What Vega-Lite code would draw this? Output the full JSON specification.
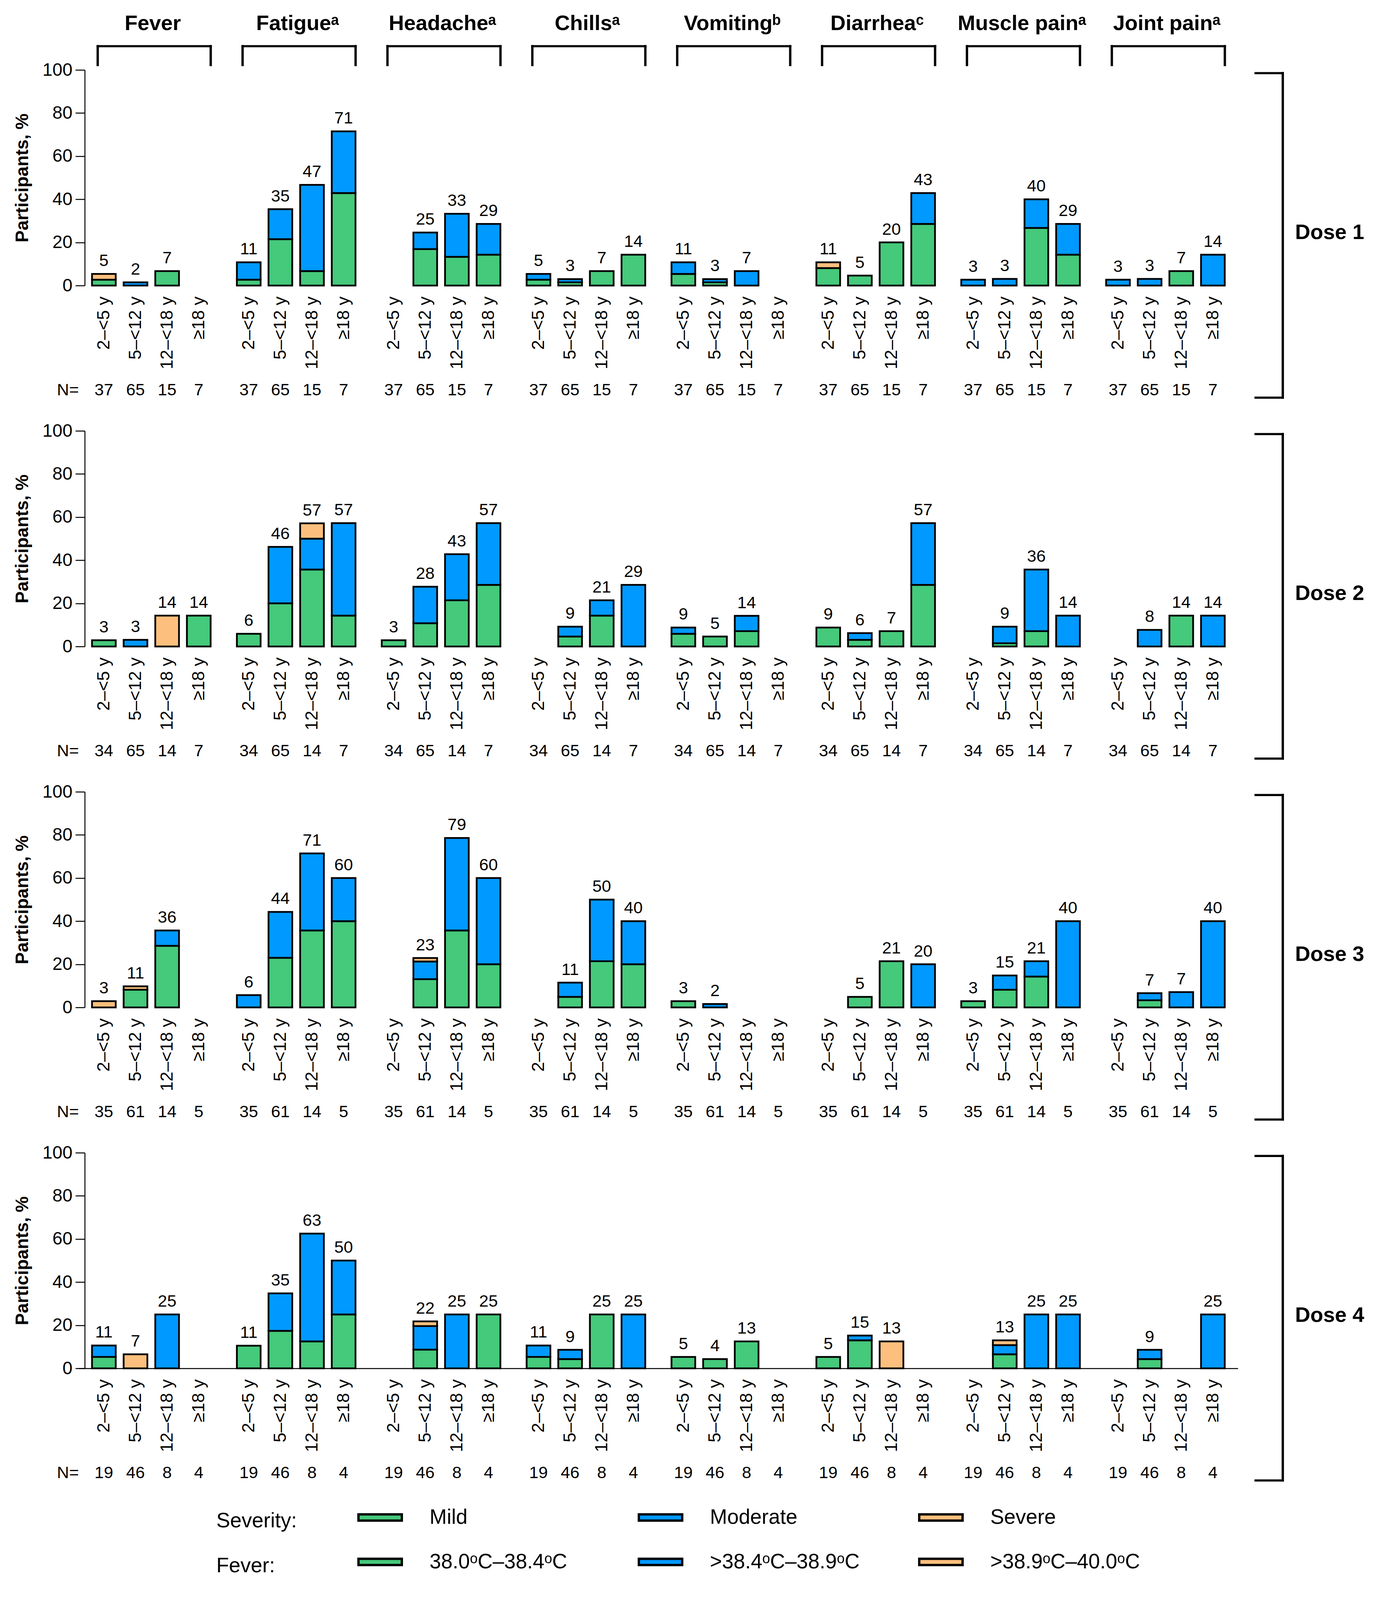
{
  "$schema": "https://vega.github.io/schema/vega-lite/v6.json",
  "padding": {"left": 34, "top": 34, "right": 20, "bottom": 20},
  "background": "white",
  "config": {"font": "Liberation Sans", "view": {"stroke": null}},
  "data": {
    "values": [
      {"d":"Dose 1","s":"Fever","a":"2–<5 y","n":37,"t":5,"f1":2.7,"f3":2.7},
      {"d":"Dose 1","s":"Fever","a":"5–<12 y","n":65,"t":2,"f2":1.5},
      {"d":"Dose 1","s":"Fever","a":"12–<18 y","n":15,"t":7,"f1":6.7},
      {"d":"Dose 1","s":"Fever","a":"≥18 y","n":7,"t":0},
      {"d":"Dose 1","s":"Fatigueᵃ","a":"2–<5 y","n":37,"t":11,"mi":2.7,"mo":8.1},
      {"d":"Dose 1","s":"Fatigueᵃ","a":"5–<12 y","n":65,"t":35,"mi":21.5,"mo":13.9},
      {"d":"Dose 1","s":"Fatigueᵃ","a":"12–<18 y","n":15,"t":47,"mi":6.7,"mo":40},
      {"d":"Dose 1","s":"Fatigueᵃ","a":"≥18 y","n":7,"t":71,"mi":42.9,"mo":28.6},
      {"d":"Dose 1","s":"Headacheᵃ","a":"2–<5 y","n":37,"t":0},
      {"d":"Dose 1","s":"Headacheᵃ","a":"5–<12 y","n":65,"t":25,"mi":16.9,"mo":7.7},
      {"d":"Dose 1","s":"Headacheᵃ","a":"12–<18 y","n":15,"t":33,"mi":13.3,"mo":20},
      {"d":"Dose 1","s":"Headacheᵃ","a":"≥18 y","n":7,"t":29,"mi":14.3,"mo":14.3},
      {"d":"Dose 1","s":"Chillsᵃ","a":"2–<5 y","n":37,"t":5,"mi":2.7,"mo":2.7},
      {"d":"Dose 1","s":"Chillsᵃ","a":"5–<12 y","n":65,"t":3,"mi":1.5,"mo":1.5},
      {"d":"Dose 1","s":"Chillsᵃ","a":"12–<18 y","n":15,"t":7,"mi":6.7},
      {"d":"Dose 1","s":"Chillsᵃ","a":"≥18 y","n":7,"t":14,"mi":14.3},
      {"d":"Dose 1","s":"Vomitingᵇ","a":"2–<5 y","n":37,"t":11,"mi":5.4,"mo":5.4},
      {"d":"Dose 1","s":"Vomitingᵇ","a":"5–<12 y","n":65,"t":3,"mi":1.5,"mo":1.5},
      {"d":"Dose 1","s":"Vomitingᵇ","a":"12–<18 y","n":15,"t":7,"mo":6.7},
      {"d":"Dose 1","s":"Vomitingᵇ","a":"≥18 y","n":7,"t":0},
      {"d":"Dose 1","s":"Diarrheaᶜ","a":"2–<5 y","n":37,"t":11,"mi":8.1,"se":2.7},
      {"d":"Dose 1","s":"Diarrheaᶜ","a":"5–<12 y","n":65,"t":5,"mi":4.6},
      {"d":"Dose 1","s":"Diarrheaᶜ","a":"12–<18 y","n":15,"t":20,"mi":20},
      {"d":"Dose 1","s":"Diarrheaᶜ","a":"≥18 y","n":7,"t":43,"mi":28.6,"mo":14.3},
      {"d":"Dose 1","s":"Muscle painᵃ","a":"2–<5 y","n":37,"t":3,"mo":2.7},
      {"d":"Dose 1","s":"Muscle painᵃ","a":"5–<12 y","n":65,"t":3,"mo":3.1},
      {"d":"Dose 1","s":"Muscle painᵃ","a":"12–<18 y","n":15,"t":40,"mi":26.7,"mo":13.3},
      {"d":"Dose 1","s":"Muscle painᵃ","a":"≥18 y","n":7,"t":29,"mi":14.3,"mo":14.3},
      {"d":"Dose 1","s":"Joint painᵃ","a":"2–<5 y","n":37,"t":3,"mo":2.7},
      {"d":"Dose 1","s":"Joint painᵃ","a":"5–<12 y","n":65,"t":3,"mo":3.1},
      {"d":"Dose 1","s":"Joint painᵃ","a":"12–<18 y","n":15,"t":7,"mi":6.7},
      {"d":"Dose 1","s":"Joint painᵃ","a":"≥18 y","n":7,"t":14,"mo":14.3},

      {"d":"Dose 2","s":"Fever","a":"2–<5 y","n":34,"t":3,"f1":2.9},
      {"d":"Dose 2","s":"Fever","a":"5–<12 y","n":65,"t":3,"f2":3.1},
      {"d":"Dose 2","s":"Fever","a":"12–<18 y","n":14,"t":14,"f3":14.3},
      {"d":"Dose 2","s":"Fever","a":"≥18 y","n":7,"t":14,"f1":14.3},
      {"d":"Dose 2","s":"Fatigueᵃ","a":"2–<5 y","n":34,"t":6,"mi":5.9},
      {"d":"Dose 2","s":"Fatigueᵃ","a":"5–<12 y","n":65,"t":46,"mi":20,"mo":26.2},
      {"d":"Dose 2","s":"Fatigueᵃ","a":"12–<18 y","n":14,"t":57,"mi":35.7,"mo":14.3,"se":7.1},
      {"d":"Dose 2","s":"Fatigueᵃ","a":"≥18 y","n":7,"t":57,"mi":14.3,"mo":42.9},
      {"d":"Dose 2","s":"Headacheᵃ","a":"2–<5 y","n":34,"t":3,"mi":2.9},
      {"d":"Dose 2","s":"Headacheᵃ","a":"5–<12 y","n":65,"t":28,"mi":10.8,"mo":16.9},
      {"d":"Dose 2","s":"Headacheᵃ","a":"12–<18 y","n":14,"t":43,"mi":21.4,"mo":21.4},
      {"d":"Dose 2","s":"Headacheᵃ","a":"≥18 y","n":7,"t":57,"mi":28.6,"mo":28.6},
      {"d":"Dose 2","s":"Chillsᵃ","a":"2–<5 y","n":34,"t":0},
      {"d":"Dose 2","s":"Chillsᵃ","a":"5–<12 y","n":65,"t":9,"mi":4.6,"mo":4.6},
      {"d":"Dose 2","s":"Chillsᵃ","a":"12–<18 y","n":14,"t":21,"mi":14.3,"mo":7.1},
      {"d":"Dose 2","s":"Chillsᵃ","a":"≥18 y","n":7,"t":29,"mo":28.6},
      {"d":"Dose 2","s":"Vomitingᵇ","a":"2–<5 y","n":34,"t":9,"mi":5.9,"mo":2.9},
      {"d":"Dose 2","s":"Vomitingᵇ","a":"5–<12 y","n":65,"t":5,"mi":4.6},
      {"d":"Dose 2","s":"Vomitingᵇ","a":"12–<18 y","n":14,"t":14,"mi":7.1,"mo":7.1},
      {"d":"Dose 2","s":"Vomitingᵇ","a":"≥18 y","n":7,"t":0},
      {"d":"Dose 2","s":"Diarrheaᶜ","a":"2–<5 y","n":34,"t":9,"mi":8.8},
      {"d":"Dose 2","s":"Diarrheaᶜ","a":"5–<12 y","n":65,"t":6,"mi":3.1,"mo":3.1},
      {"d":"Dose 2","s":"Diarrheaᶜ","a":"12–<18 y","n":14,"t":7,"mi":7.1},
      {"d":"Dose 2","s":"Diarrheaᶜ","a":"≥18 y","n":7,"t":57,"mi":28.6,"mo":28.6},
      {"d":"Dose 2","s":"Muscle painᵃ","a":"2–<5 y","n":34,"t":0},
      {"d":"Dose 2","s":"Muscle painᵃ","a":"5–<12 y","n":65,"t":9,"mi":1.5,"mo":7.7},
      {"d":"Dose 2","s":"Muscle painᵃ","a":"12–<18 y","n":14,"t":36,"mi":7.1,"mo":28.6},
      {"d":"Dose 2","s":"Muscle painᵃ","a":"≥18 y","n":7,"t":14,"mo":14.3},
      {"d":"Dose 2","s":"Joint painᵃ","a":"2–<5 y","n":34,"t":0},
      {"d":"Dose 2","s":"Joint painᵃ","a":"5–<12 y","n":65,"t":8,"mo":7.7},
      {"d":"Dose 2","s":"Joint painᵃ","a":"12–<18 y","n":14,"t":14,"mi":14.3},
      {"d":"Dose 2","s":"Joint painᵃ","a":"≥18 y","n":7,"t":14,"mo":14.3},

      {"d":"Dose 3","s":"Fever","a":"2–<5 y","n":35,"t":3,"f3":2.9},
      {"d":"Dose 3","s":"Fever","a":"5–<12 y","n":61,"t":11,"f1":8.2,"f3":1.6},
      {"d":"Dose 3","s":"Fever","a":"12–<18 y","n":14,"t":36,"f1":28.6,"f2":7.1},
      {"d":"Dose 3","s":"Fever","a":"≥18 y","n":5,"t":0},
      {"d":"Dose 3","s":"Fatigueᵃ","a":"2–<5 y","n":35,"t":6,"mo":5.7},
      {"d":"Dose 3","s":"Fatigueᵃ","a":"5–<12 y","n":61,"t":44,"mi":23,"mo":21.3},
      {"d":"Dose 3","s":"Fatigueᵃ","a":"12–<18 y","n":14,"t":71,"mi":35.7,"mo":35.7},
      {"d":"Dose 3","s":"Fatigueᵃ","a":"≥18 y","n":5,"t":60,"mi":40,"mo":20},
      {"d":"Dose 3","s":"Headacheᵃ","a":"2–<5 y","n":35,"t":0},
      {"d":"Dose 3","s":"Headacheᵃ","a":"5–<12 y","n":61,"t":23,"mi":13.1,"mo":8.2,"se":1.6},
      {"d":"Dose 3","s":"Headacheᵃ","a":"12–<18 y","n":14,"t":79,"mi":35.7,"mo":42.9},
      {"d":"Dose 3","s":"Headacheᵃ","a":"≥18 y","n":5,"t":60,"mi":20,"mo":40},
      {"d":"Dose 3","s":"Chillsᵃ","a":"2–<5 y","n":35,"t":0},
      {"d":"Dose 3","s":"Chillsᵃ","a":"5–<12 y","n":61,"t":11,"mi":4.9,"mo":6.6},
      {"d":"Dose 3","s":"Chillsᵃ","a":"12–<18 y","n":14,"t":50,"mi":21.4,"mo":28.6},
      {"d":"Dose 3","s":"Chillsᵃ","a":"≥18 y","n":5,"t":40,"mi":20,"mo":20},
      {"d":"Dose 3","s":"Vomitingᵇ","a":"2–<5 y","n":35,"t":3,"mi":2.9},
      {"d":"Dose 3","s":"Vomitingᵇ","a":"5–<12 y","n":61,"t":2,"mo":1.6},
      {"d":"Dose 3","s":"Vomitingᵇ","a":"12–<18 y","n":14,"t":0},
      {"d":"Dose 3","s":"Vomitingᵇ","a":"≥18 y","n":5,"t":0},
      {"d":"Dose 3","s":"Diarrheaᶜ","a":"2–<5 y","n":35,"t":0},
      {"d":"Dose 3","s":"Diarrheaᶜ","a":"5–<12 y","n":61,"t":5,"mi":4.9},
      {"d":"Dose 3","s":"Diarrheaᶜ","a":"12–<18 y","n":14,"t":21,"mi":21.4},
      {"d":"Dose 3","s":"Diarrheaᶜ","a":"≥18 y","n":5,"t":20,"mo":20},
      {"d":"Dose 3","s":"Muscle painᵃ","a":"2–<5 y","n":35,"t":3,"mi":2.9},
      {"d":"Dose 3","s":"Muscle painᵃ","a":"5–<12 y","n":61,"t":15,"mi":8.2,"mo":6.6},
      {"d":"Dose 3","s":"Muscle painᵃ","a":"12–<18 y","n":14,"t":21,"mi":14.3,"mo":7.1},
      {"d":"Dose 3","s":"Muscle painᵃ","a":"≥18 y","n":5,"t":40,"mo":40},
      {"d":"Dose 3","s":"Joint painᵃ","a":"2–<5 y","n":35,"t":0},
      {"d":"Dose 3","s":"Joint painᵃ","a":"5–<12 y","n":61,"t":7,"mi":3.3,"mo":3.3},
      {"d":"Dose 3","s":"Joint painᵃ","a":"12–<18 y","n":14,"t":7,"mo":7.1},
      {"d":"Dose 3","s":"Joint painᵃ","a":"≥18 y","n":5,"t":40,"mo":40},

      {"d":"Dose 4","s":"Fever","a":"2–<5 y","n":19,"t":11,"f1":5.3,"f2":5.3},
      {"d":"Dose 4","s":"Fever","a":"5–<12 y","n":46,"t":7,"f3":6.5},
      {"d":"Dose 4","s":"Fever","a":"12–<18 y","n":8,"t":25,"f2":25},
      {"d":"Dose 4","s":"Fever","a":"≥18 y","n":4,"t":0},
      {"d":"Dose 4","s":"Fatigueᵃ","a":"2–<5 y","n":19,"t":11,"mi":10.5},
      {"d":"Dose 4","s":"Fatigueᵃ","a":"5–<12 y","n":46,"t":35,"mi":17.4,"mo":17.4},
      {"d":"Dose 4","s":"Fatigueᵃ","a":"12–<18 y","n":8,"t":63,"mi":12.5,"mo":50},
      {"d":"Dose 4","s":"Fatigueᵃ","a":"≥18 y","n":4,"t":50,"mi":25,"mo":25},
      {"d":"Dose 4","s":"Headacheᵃ","a":"2–<5 y","n":19,"t":0},
      {"d":"Dose 4","s":"Headacheᵃ","a":"5–<12 y","n":46,"t":22,"mi":8.7,"mo":10.9,"se":2.2},
      {"d":"Dose 4","s":"Headacheᵃ","a":"12–<18 y","n":8,"t":25,"mo":25},
      {"d":"Dose 4","s":"Headacheᵃ","a":"≥18 y","n":4,"t":25,"mi":25},
      {"d":"Dose 4","s":"Chillsᵃ","a":"2–<5 y","n":19,"t":11,"mi":5.3,"mo":5.3},
      {"d":"Dose 4","s":"Chillsᵃ","a":"5–<12 y","n":46,"t":9,"mi":4.3,"mo":4.3},
      {"d":"Dose 4","s":"Chillsᵃ","a":"12–<18 y","n":8,"t":25,"mi":25},
      {"d":"Dose 4","s":"Chillsᵃ","a":"≥18 y","n":4,"t":25,"mo":25},
      {"d":"Dose 4","s":"Vomitingᵇ","a":"2–<5 y","n":19,"t":5,"mi":5.3},
      {"d":"Dose 4","s":"Vomitingᵇ","a":"5–<12 y","n":46,"t":4,"mi":4.3},
      {"d":"Dose 4","s":"Vomitingᵇ","a":"12–<18 y","n":8,"t":13,"mi":12.5},
      {"d":"Dose 4","s":"Vomitingᵇ","a":"≥18 y","n":4,"t":0},
      {"d":"Dose 4","s":"Diarrheaᶜ","a":"2–<5 y","n":19,"t":5,"mi":5.3},
      {"d":"Dose 4","s":"Diarrheaᶜ","a":"5–<12 y","n":46,"t":15,"mi":13,"mo":2.2},
      {"d":"Dose 4","s":"Diarrheaᶜ","a":"12–<18 y","n":8,"t":13,"se":12.5},
      {"d":"Dose 4","s":"Diarrheaᶜ","a":"≥18 y","n":4,"t":0},
      {"d":"Dose 4","s":"Muscle painᵃ","a":"2–<5 y","n":19,"t":0},
      {"d":"Dose 4","s":"Muscle painᵃ","a":"5–<12 y","n":46,"t":13,"mi":6.5,"mo":4.3,"se":2.2},
      {"d":"Dose 4","s":"Muscle painᵃ","a":"12–<18 y","n":8,"t":25,"mo":25},
      {"d":"Dose 4","s":"Muscle painᵃ","a":"≥18 y","n":4,"t":25,"mo":25},
      {"d":"Dose 4","s":"Joint painᵃ","a":"2–<5 y","n":19,"t":0},
      {"d":"Dose 4","s":"Joint painᵃ","a":"5–<12 y","n":46,"t":9,"mi":4.3,"mo":4.3},
      {"d":"Dose 4","s":"Joint painᵃ","a":"12–<18 y","n":8,"t":0},
      {"d":"Dose 4","s":"Joint painᵃ","a":"≥18 y","n":4,"t":25,"mo":25}
    ]
  },
  "facet": {"row": {"field": "d", "type": "nominal", "header": null}},
  "spacing": {"row": 372},
  "bounds": "flush",
  "spec": {
    "width": 2953,
    "height": 552,
    "layer": [
      {
        "transform": [
          {"fold": ["mi", "mo", "se", "f1", "f2", "f3"], "as": ["key", "value"]},
          {"filter": "datum.value > 0"}
        ],
        "mark": {"type": "bar", "stroke": "black", "strokeWidth": 4.5},
        "encoding": {
          "x": {
            "field": "s", "type": "nominal",
            "scale": {
              "domain": ["Fever", "Fatigueᵃ", "Headacheᵃ", "Chillsᵃ", "Vomitingᵇ", "Diarrheaᶜ", "Muscle painᵃ", "Joint painᵃ"],
              "range": [-15, 2953], "paddingInner": 0, "paddingOuter": 0
            },
            "axis": {"labels": false, "ticks": false, "title": null, "domainColor": "black", "domainWidth": 2.5}
          },
          "xOffset": {
            "field": "a", "type": "nominal",
            "scale": {"domain": ["2–<5 y", "5–<12 y", "12–<18 y", "≥18 y"], "paddingInner": 0.25, "paddingOuter": 0.415}
          },
          "y": {
            "field": "value", "type": "quantitative", "stack": "zero",
            "scale": {"domain": [0, 100], "nice": false},
            "axis": {
              "values": [0, 20, 40, 60, 80, 100], "title": "Participants, %", "grid": false,
              "titleFontSize": 46, "titleFontWeight": "bold", "titleColor": "black", "titlePadding": 27,
              "labelFontSize": 46, "labelColor": "black", "labelPadding": 8, "labelFlush": false, "labelOverlap": false,
              "tickSize": 24, "tickWidth": 2.5, "tickColor": "black", "domainColor": "black", "domainWidth": 2.5
            }
          },
          "fill": {
            "field": "key", "type": "nominal",
            "scale": {
              "domain": ["mi", "mo", "se", "f1", "f2", "f3"],
              "range": ["#45C97A", "#0099FF", "#FCBF7D", "#45C97A", "#0099FF", "#FCBF7D"]
            },
            "legend": {
              "orient": "none", "legendX": 337, "legendY": 3647,
              "direction": "horizontal", "columns": 3, "gridAlign": "all",
              "title": ["Severity:", "\u00a0\u00a0\u00a0\u00a0Fever:"], "titleOrient": "left", "titleAnchor": "middle", "titleBaseline": "top",
              "titleFontSize": 53, "titleFontWeight": "normal", "titleColor": "black", "titleLineHeight": 115, "titlePadding": 154, "titleLimit": 1000,
              "labelFontSize": 53, "labelColor": "black", "labelLimit": 1000, "labelOffset": 68, "labelBaseline": "middle",
              "labelExpr": "datum.label == 'mi' ? 'Mild' : datum.label == 'mo' ? 'Moderate' : datum.label == 'se' ? 'Severe' : datum.label == 'f1' ? '38.0ᵒC–38.4ᵒC' : datum.label == 'f2' ? '>38.4ᵒC–38.9ᵒC' : '>38.9ᵒC–40.0ᵒC'",
              "symbolType": "M-1,-0.145H1V0.145H-1Z", "symbolSize": 12321, "symbolStrokeColor": "black", "symbolStrokeWidth": 6, "symbolOpacity": 1,
              "columnPadding": 140, "rowPadding": 28
            }
          },
          "order": {"field": "key", "sort": "ascending"}
        }
      },
      {
        "transform": [{"fold": ["mi", "mo", "se", "f1", "f2", "f3"], "as": ["key", "value"]}],
        "mark": {"type": "text", "baseline": "alphabetic", "dy": -20, "fontSize": 43, "color": "black"},
        "encoding": {
          "x": {"field": "s", "type": "nominal"},
          "xOffset": {"field": "a", "type": "nominal"},
          "y": {"aggregate": "sum", "field": "value", "type": "quantitative"},
          "text": {"field": "t", "type": "quantitative"}
        }
      },
      {
        "mark": {"type": "text", "angle": 270, "align": "right", "baseline": "middle", "dx": -28, "fontSize": 45, "color": "black"},
        "encoding": {
          "x": {"field": "s", "type": "nominal"},
          "xOffset": {"field": "a", "type": "nominal"},
          "y": {"datum": 0, "type": "quantitative"},
          "text": {"field": "a", "type": "nominal"}
        }
      },
      {
        "mark": {"type": "text", "baseline": "middle", "dy": 268, "fontSize": 43, "color": "black"},
        "encoding": {
          "x": {"field": "s", "type": "nominal"},
          "xOffset": {"field": "a", "type": "nominal"},
          "y": {"datum": 0, "type": "quantitative"},
          "text": {"field": "n", "type": "quantitative"}
        }
      },
      {
        "transform": [{"filter": "datum.s == 'Fever' && datum.a == '2–<5 y'"}],
        "mark": {"type": "text", "text": "N=", "align": "right", "baseline": "middle", "dy": 268, "fontSize": 43, "color": "black"},
        "encoding": {
          "x": {"datum": "Fever", "type": "nominal", "bandPosition": 0},
          "y": {"datum": 0, "type": "quantitative"}
        }
      },
      {
        "transform": [{"filter": "datum.d == 'Dose 1' && datum.a == '2–<5 y'"}],
        "mark": {"type": "text", "baseline": "alphabetic", "align": "center", "fontSize": 54, "fontWeight": "bold", "color": "black"},
        "encoding": {
          "x": {"field": "s", "type": "nominal", "bandPosition": 0.51},
          "y": {"datum": 118.4, "type": "quantitative"},
          "text": {"field": "s", "type": "nominal"}
        }
      },
      {
        "transform": [{"filter": "datum.d == 'Dose 1' && datum.a == '2–<5 y'"}],
        "mark": {"type": "rule", "color": "black", "strokeWidth": 5.5, "strokeCap": "square"},
        "encoding": {
          "x": {"field": "s", "type": "nominal", "bandPosition": 0.13},
          "x2": {"field": "s", "bandPosition": 0.91},
          "y": {"datum": 111, "type": "quantitative"}
        }
      },
      {
        "transform": [{"filter": "datum.d == 'Dose 1' && datum.a == '2–<5 y'"}],
        "mark": {"type": "rule", "color": "black", "strokeWidth": 6, "strokeCap": "square"},
        "encoding": {
          "x": {"field": "s", "type": "nominal", "bandPosition": 0.13},
          "y": {"datum": 111, "type": "quantitative"},
          "y2": {"datum": 102.3}
        }
      },
      {
        "transform": [{"filter": "datum.d == 'Dose 1' && datum.a == '2–<5 y'"}],
        "mark": {"type": "rule", "color": "black", "strokeWidth": 6, "strokeCap": "square"},
        "encoding": {
          "x": {"field": "s", "type": "nominal", "bandPosition": 0.91},
          "y": {"datum": 111, "type": "quantitative"},
          "y2": {"datum": 102.3}
        }
      },
      {
        "transform": [{"filter": "datum.s == 'Fever' && datum.a == '2–<5 y'"}],
        "mark": {"type": "rule", "color": "black", "strokeWidth": 6, "strokeCap": "square"},
        "encoding": {
          "x": {"datum": "Joint painᵃ", "type": "nominal", "bandPosition": 1.31},
          "y": {"datum": 98.5, "type": "quantitative"},
          "y2": {"datum": -52}
        }
      },
      {
        "transform": [{"filter": "datum.s == 'Fever' && datum.a == '2–<5 y'"}],
        "mark": {"type": "rule", "color": "black", "strokeWidth": 5.5, "strokeCap": "square"},
        "encoding": {
          "x": {"datum": "Joint painᵃ", "type": "nominal", "bandPosition": 1.122},
          "x2": {"datum": "Joint painᵃ", "bandPosition": 1.31},
          "y": {"datum": 98.5, "type": "quantitative"}
        }
      },
      {
        "transform": [{"filter": "datum.s == 'Fever' && datum.a == '2–<5 y'"}],
        "mark": {"type": "rule", "color": "black", "strokeWidth": 5.5, "strokeCap": "square"},
        "encoding": {
          "x": {"datum": "Joint painᵃ", "type": "nominal", "bandPosition": 1.122},
          "x2": {"datum": "Joint painᵃ", "bandPosition": 1.31},
          "y": {"datum": -52, "type": "quantitative"}
        }
      },
      {
        "transform": [{"filter": "datum.s == 'Fever' && datum.a == '2–<5 y'"}],
        "mark": {"type": "text", "align": "left", "baseline": "middle", "fontSize": 54, "fontWeight": "bold", "color": "black"},
        "encoding": {
          "x": {"datum": "Joint painᵃ", "type": "nominal", "bandPosition": 1.395},
          "y": {"datum": 24.5, "type": "quantitative"},
          "text": {"field": "d", "type": "nominal"}
        }
      }
    ]
  }
}
